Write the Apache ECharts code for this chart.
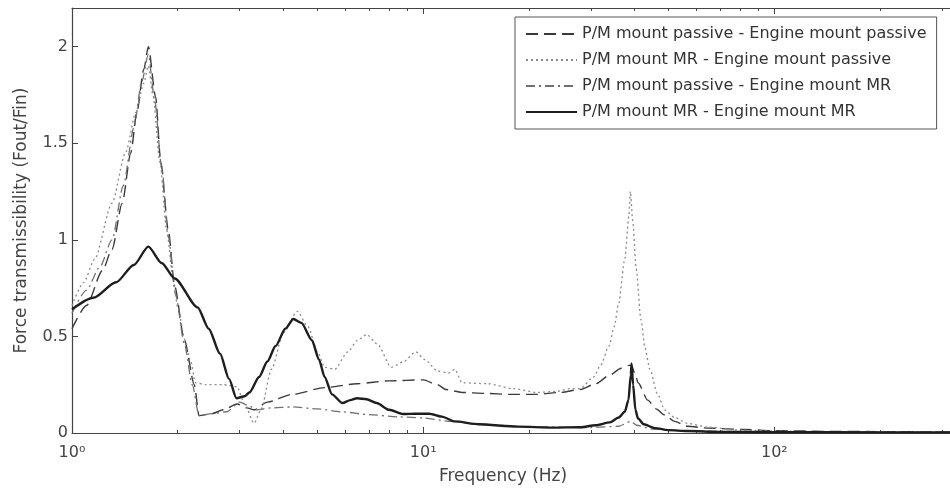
<!DOCTYPE html>
<html>
<head>
<meta charset="utf-8">
<script src="https://cdn.jsdelivr.net/npm/echarts@6/dist/echarts.min.js"></script>
<style>
html,body{margin:0;padding:0;background:#fff;}
#chart{width:950px;height:491px;}
</style>
</head>
<body>
<div id="chart"></div>
<script>
// ---- data ----
const seriesNames = [
  'P/M mount passive - Engine mount passive',
  'P/M mount MR - Engine mount passive',
  'P/M mount passive - Engine mount MR',
  'P/M mount MR - Engine mount MR'
];

const freqPP = [1.00,1.10,1.22,1.30,1.39,1.47,1.53,1.60,1.65,1.73,1.79,1.88,1.96,2.09,2.23,2.30,2.50,2.70,2.95,3.15,3.30,3.60,4.24,5.24,6.48,8.0,10.0,11.0,11.6,12.9,15,17.7,21,24.5,28,31,34,36.6,38.5,39.2,40.2,40.9,43.6,46,48.7,52,56.5,65,83,100,150,316];
const valPP  = [0.54,0.66,0.84,0.95,1.19,1.45,1.66,1.88,2.00,1.74,1.40,1.05,0.76,0.48,0.25,0.09,0.10,0.12,0.15,0.13,0.12,0.16,0.20,0.235,0.255,0.27,0.275,0.25,0.225,0.21,0.205,0.20,0.20,0.21,0.225,0.255,0.30,0.335,0.35,0.35,0.30,0.26,0.17,0.125,0.093,0.06,0.035,0.025,0.018,0.012,0.008,0.005];

const freqMP = [1.00,1.08,1.16,1.30,1.42,1.52,1.60,1.65,1.70,1.78,1.86,1.94,2.00,2.10,2.17,2.25,2.40,2.70,2.95,3.10,3.30,3.45,3.70,4.00,4.38,4.70,5.00,5.24,5.60,6.10,6.50,6.91,7.40,8.12,8.80,9.53,10.1,11.0,11.8,12.3,12.9,15.3,18,21.1,24,26.1,28,30.6,32,33.8,35,36.0,37.5,38.5,38.9,39.5,40.4,41.7,42.8,44.2,46.5,48.7,52,56.5,65,80,100,150,316];
const valMP  = [0.66,0.78,0.90,1.19,1.45,1.66,1.81,1.90,1.75,1.40,1.05,0.80,0.65,0.48,0.38,0.26,0.25,0.25,0.24,0.15,0.05,0.12,0.33,0.52,0.63,0.55,0.42,0.34,0.33,0.42,0.48,0.51,0.46,0.34,0.37,0.42,0.38,0.32,0.31,0.33,0.26,0.255,0.23,0.21,0.215,0.23,0.23,0.29,0.35,0.45,0.55,0.67,0.90,1.12,1.25,1.10,0.85,0.585,0.44,0.33,0.20,0.12,0.08,0.05,0.03,0.015,0.01,0.007,0.005];

const freqPM = [1.00,1.10,1.20,1.30,1.40,1.50,1.58,1.65,1.72,1.80,1.88,1.97,2.09,2.20,2.30,2.50,2.76,3.00,3.20,3.34,3.70,4.24,5.00,5.84,7.00,8.60,10,12,15,20,30,36,39,40.5,45,55,80,100,316];
const valPM  = [0.62,0.74,0.86,1.00,1.28,1.58,1.82,1.96,1.72,1.38,1.02,0.72,0.46,0.25,0.09,0.10,0.11,0.16,0.14,0.12,0.13,0.135,0.125,0.11,0.095,0.083,0.078,0.06,0.042,0.032,0.028,0.035,0.06,0.04,0.02,0.012,0.008,0.006,0.004];

const freqMM = [1.00,1.15,1.335,1.50,1.65,1.80,1.96,2.28,2.45,2.64,2.80,2.94,3.10,3.20,3.41,3.60,3.80,4.05,4.27,4.50,4.82,5.05,5.24,5.50,5.89,6.20,6.48,6.90,7.37,8.00,8.77,9.5,10.4,11.3,12.3,14.4,18.6,23.4,28,31,34,36,37.5,38.4,39.0,39.2,39.6,40.2,40.9,42.5,45.7,50,56.5,70,100,200,316];
const valMM  = [0.64,0.70,0.78,0.87,0.965,0.88,0.80,0.65,0.54,0.41,0.28,0.18,0.19,0.21,0.29,0.37,0.45,0.54,0.59,0.57,0.48,0.38,0.29,0.20,0.155,0.17,0.18,0.175,0.155,0.12,0.098,0.10,0.10,0.085,0.06,0.045,0.033,0.028,0.03,0.04,0.055,0.08,0.11,0.17,0.30,0.36,0.25,0.12,0.075,0.045,0.025,0.015,0.01,0.006,0.004,0.003,0.003];

const xMajorTicks = [1, 10, 100];
const xMinorTicks = [2,3,4,5,6,7,8,9,20,30,40,50,60,70,80,90,200,300];
const yTicks = [0, 0.5, 1, 1.5, 2];
const xTickLabels = {1: '10\u2070', 10: '10\u00b9', 100: '10\u00b2'};

// ---- chart ----
const pair = (xs, ys) => xs.map((x, i) => [x, ys[i]]);
const FONT = 'DejaVu Sans';
const AX = '#444';
const xMin = 1, xMax = 316.23;

function xAx(pos, ticks, len, withLabels, withLine) {
  return {
    type: 'log', logBase: 10, min: xMin, max: xMax, position: pos, gridIndex: 0,
    axisLine: {show: withLine, lineStyle: {color: AX, width: 1.2}},
    axisTick: {show: true, inside: true, length: len, customValues: ticks, lineStyle: {color: AX, width: 1}},
    axisLabel: withLabels ? {
      show: true, customValues: xMajorTicks, margin: 12,
      fontFamily: FONT, fontSize: 16, color: '#444',
      formatter: v => xTickLabels[Math.round(v)] || ''
    } : {show: false},
    splitLine: {show: false}, minorTick: {show: false}, minorSplitLine: {show: false}
  };
}

const chart = echarts.init(document.getElementById('chart'), null, {renderer: 'canvas'});
const styles = [
  {color: '#3a3a3a', width: 1.4, type: [12, 6]},
  {color: '#8a8a8a', width: 1.3, type: [2, 3]},
  {color: '#707070', width: 1.3, type: [9, 4, 2, 4]},
  {color: '#1e1e1e', width: 2.4, type: 'solid'}
];
const dataSets = [pair(freqPP, valPP), pair(freqMP, valMP), pair(freqPM, valPM), pair(freqMM, valMM)];

chart.setOption({
  animation: false,
  backgroundColor: '#fff',
  grid: {left: 72, top: 8, bottom: 58, right: -18, containLabel: false},
  legend: {
    orient: 'vertical', left: 515, top: 17,
    itemWidth: 51, itemHeight: 14, itemGap: 10,
    padding: [9, 10, 9, 10],
    borderColor: '#555', borderWidth: 1, backgroundColor: '#fff',
    itemStyle: {opacity: 0, borderWidth: 0},
    textStyle: {fontFamily: FONT, fontSize: 16, color: '#333'},
    data: seriesNames
  },
  xAxis: [
    Object.assign(xAx('bottom', xMajorTicks, 6, true, true), {
      name: 'Frequency (Hz)', nameLocation: 'middle', nameGap: 35,
      nameTextStyle: {fontFamily: FONT, fontSize: 17, color: '#444', padding: [0, 16, 0, 0]}
    }),
    xAx('bottom', xMinorTicks, 3, false, false),
    xAx('top', xMajorTicks, 6, false, true),
    xAx('top', xMinorTicks, 3, false, false)
  ],
  yAxis: [{
    type: 'value', min: 0, max: 2.2, interval: 0.5,
    name: 'Force transmissibility (Fout/Fin)', nameLocation: 'middle', nameGap: 42, nameRotate: 90,
    nameTextStyle: {fontFamily: FONT, fontSize: 17, color: '#444'},
    axisLine: {show: true, lineStyle: {color: AX, width: 1.2}},
    axisTick: {show: true, inside: true, length: 6, customValues: yTicks, lineStyle: {color: AX}},
    axisLabel: {show: true, customValues: yTicks, margin: 4, fontFamily: FONT, fontSize: 16, color: '#444',
      formatter: v => String(v)},
    splitLine: {show: false}
  }],
  series: seriesNames.map((n, i) => ({
    name: n, type: 'line', xAxisIndex: 0, yAxisIndex: 0,
    data: dataSets[i], symbol: 'none', showSymbol: false,
    smooth: 0.25, smoothMonotone: 'x',
    lineStyle: styles[i], itemStyle: {color: styles[i].color},
    z: i === 3 ? 5 : 3
  }))
});
</script>
</body>
</html>
